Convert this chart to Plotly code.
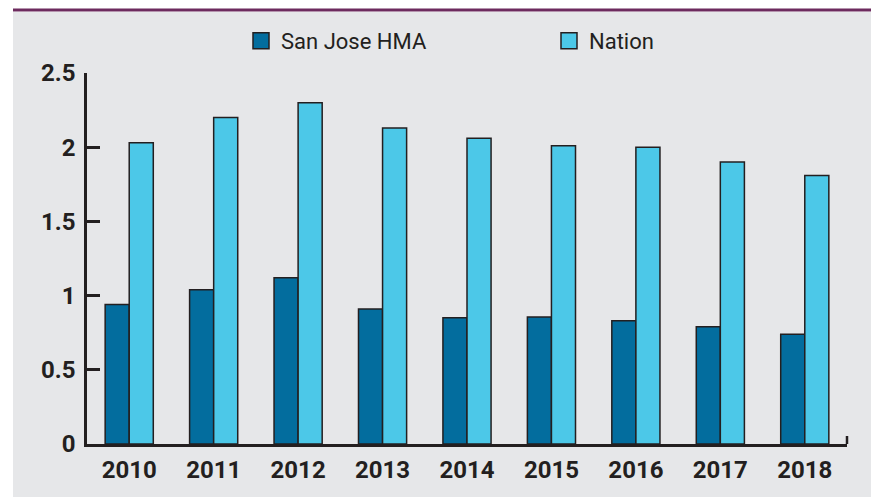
import plotly.graph_objects as go

years = ["2010", "2011", "2012", "2013", "2014", "2015", "2016", "2017", "2018"]
san_jose = [0.94, 1.04, 1.12, 0.91, 0.85, 0.855, 0.83, 0.79, 0.74]
nation = [2.03, 2.20, 2.30, 2.13, 2.06, 2.01, 2.00, 1.90, 1.81]
y_ticks = [0, 0.5, 1, 1.5, 2, 2.5]
y_tick_text = ["0", "0.5", "1", "1.5", "2", "2.5"]

DARK = "#036d9e"
LIGHT = "#4cc8e8"
INK = "#231f20"
BG = "#e6e7e9"
FONT = "Liberation Sans Narrow, Roboto, Arial, sans-serif"

W, H = 871, 497
# plot area in window coordinates: x 87..847, y 73..444
L, R, T, B = 87, W - 847, 73, H - 444
pw, ph = W - L - R, H - T - B

def px(xw):
    return (xw - L) / pw

def py(yw):
    return (H - B - yw) / ph

fig = go.Figure()
fig.add_trace(go.Bar(x=years, y=san_jose, name="San Jose HMA", marker=dict(color=DARK, line=dict(color=INK, width=1.5)), showlegend=False))
fig.add_trace(go.Bar(x=years, y=nation, name="Nation", marker=dict(color=LIGHT, line=dict(color=INK, width=1.5)), showlegend=False))
# legend proxies
for nm, col in [("San Jose HMA", DARK), ("Nation", LIGHT)]:
    fig.add_trace(go.Scatter(x=[None], y=[None], mode="markers", name=nm,
                             marker=dict(symbol="square", size=17, color=col, line=dict(color=INK, width=1.5))))

fig.update_layout(
    width=W, height=H,
    margin=dict(l=L, r=R, t=T, b=B, autoexpand=False),
    paper_bgcolor="white",
    plot_bgcolor="rgba(0,0,0,0)",
    barmode="group",
    bargap=0.43,
    bargroupgap=0,
    font=dict(family=FONT, color=INK),
    legend=dict(orientation="h", x=px(241), xanchor="left", y=py(41), yanchor="middle",
                font=dict(size=22, color=INK), itemsizing="trace",
                entrywidth=263, entrywidthmode="pixels", bgcolor="rgba(0,0,0,0)"),
    xaxis=dict(range=[-0.5, 8.5], showline=True, linecolor=INK, linewidth=2.5, ticks="",
               tickfont=dict(size=24, color=INK, family=FONT, weight="bold"), showgrid=False,
               ticklabelstandoff=2, zeroline=False),
    yaxis=dict(range=[0, 2.5], tickvals=y_ticks, ticktext=y_tick_text, showline=True, linecolor=INK,
               linewidth=2.5, ticks="inside", ticklen=13, tickwidth=2.5, tickcolor=INK,
               tickfont=dict(size=24, color=INK, family=FONT, weight="bold"), showgrid=False,
               zeroline=False, ticklabelstandoff=4),
    shapes=[
        dict(type="rect", xref="paper", yref="paper", x0=px(13), x1=px(W + 10), y0=py(12), y1=py(H + 10),
             fillcolor=BG, line=dict(width=0), layer="below"),
        dict(type="line", xref="paper", yref="paper", x0=px(13), x1=px(W + 10), y0=py(10), y1=py(10),
             line=dict(color="#6d2b5e", width=3)),
        dict(type="line", xref="paper", yref="paper", x0=1, x1=1, y0=0, y1=py(436),
             line=dict(color=INK, width=2.5)),
    ],
)

fig.write_html(
    "out.html",
    config={"displayModeBar": False},
    post_script="document.documentElement.style.margin='0';document.body.style.margin='0';"
                "document.documentElement.style.overflow='hidden';document.body.style.overflow='hidden';",
)
